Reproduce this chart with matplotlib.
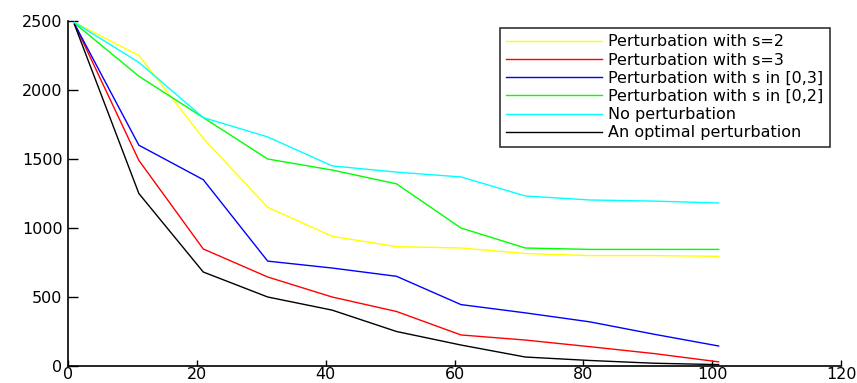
import numpy as np
import matplotlib
matplotlib.use('Agg')
import matplotlib.pyplot as plt

# iteration numbers (x) and cost for each perturbation scheme
iters = [1, 11, 21, 31, 41, 51, 61, 71, 81, 91, 101]
s2 = [2490, 2250, 1650, 1150, 940, 865, 855, 815, 800, 800, 795]
s3 = [2480, 1490, 848, 645, 500, 395, 225, 188, 140, 90, 30]
s03 = [2480, 1600, 1350, 760, 710, 650, 445, 385, 320, 230, 145]
s02 = [2485, 2100, 1800, 1500, 1420, 1320, 1000, 855, 845, 845, 845]
none = [2490, 2200, 1800, 1660, 1450, 1405, 1370, 1232, 1203, 1195, 1181]
optimal = [2475, 1250, 681, 500, 405, 250, 152, 65, 40, 20, 10]

labels = ['Perturbation with s=2', 'Perturbation with s=3',
          'Perturbation with s in [0,3]', 'Perturbation with s in [0,2]',
          'No perturbation', 'An optimal perturbation']
colors = ['#ffff00', '#ff0000', '#0000ff', '#00ff00', '#00ffff', '#000000']

plt.rcParams['font.family'] = ['DejaVu Sans']

fig = plt.figure(figsize=(8.57, 3.83), dpi=100)
ax = fig.add_axes([68 / 857, 17 / 383, 773 / 857, 345 / 383])

for ys, lab, c in zip([s2, s3, s03, s02, none, optimal], labels, colors):
    ax.plot(iters, ys, color=c, lw=1, label=lab)

ax.set_xlim(0, 120)
ax.set_ylim(0, 2500)
ax.set_xticks(np.arange(0, 121, 20))
ax.set_yticks(np.arange(0, 2501, 500))
for side in ['top', 'right']:
    ax.spines[side].set_visible(False)
for side in ['left', 'bottom']:
    ax.spines[side].set_linewidth(1.2)
ax.tick_params(axis='x', direction='in', length=4, width=1, labelsize=11.5, pad=1)
ax.tick_params(axis='y', direction='in', length=7, width=1, labelsize=11.5, pad=4)

leg = ax.legend(loc='upper right', bbox_to_anchor=(830 / 857, 1 - 28 / 383),
                bbox_transform=fig.transFigure, fontsize=11.5, frameon=True,
                fancybox=False, edgecolor='black', handlelength=6,
                handletextpad=0.4, borderpad=0.4, labelspacing=0.2,
                borderaxespad=0)
leg.get_frame().set_linewidth(1.2)

plt.savefig('out.png', dpi=100)
plt.close()
